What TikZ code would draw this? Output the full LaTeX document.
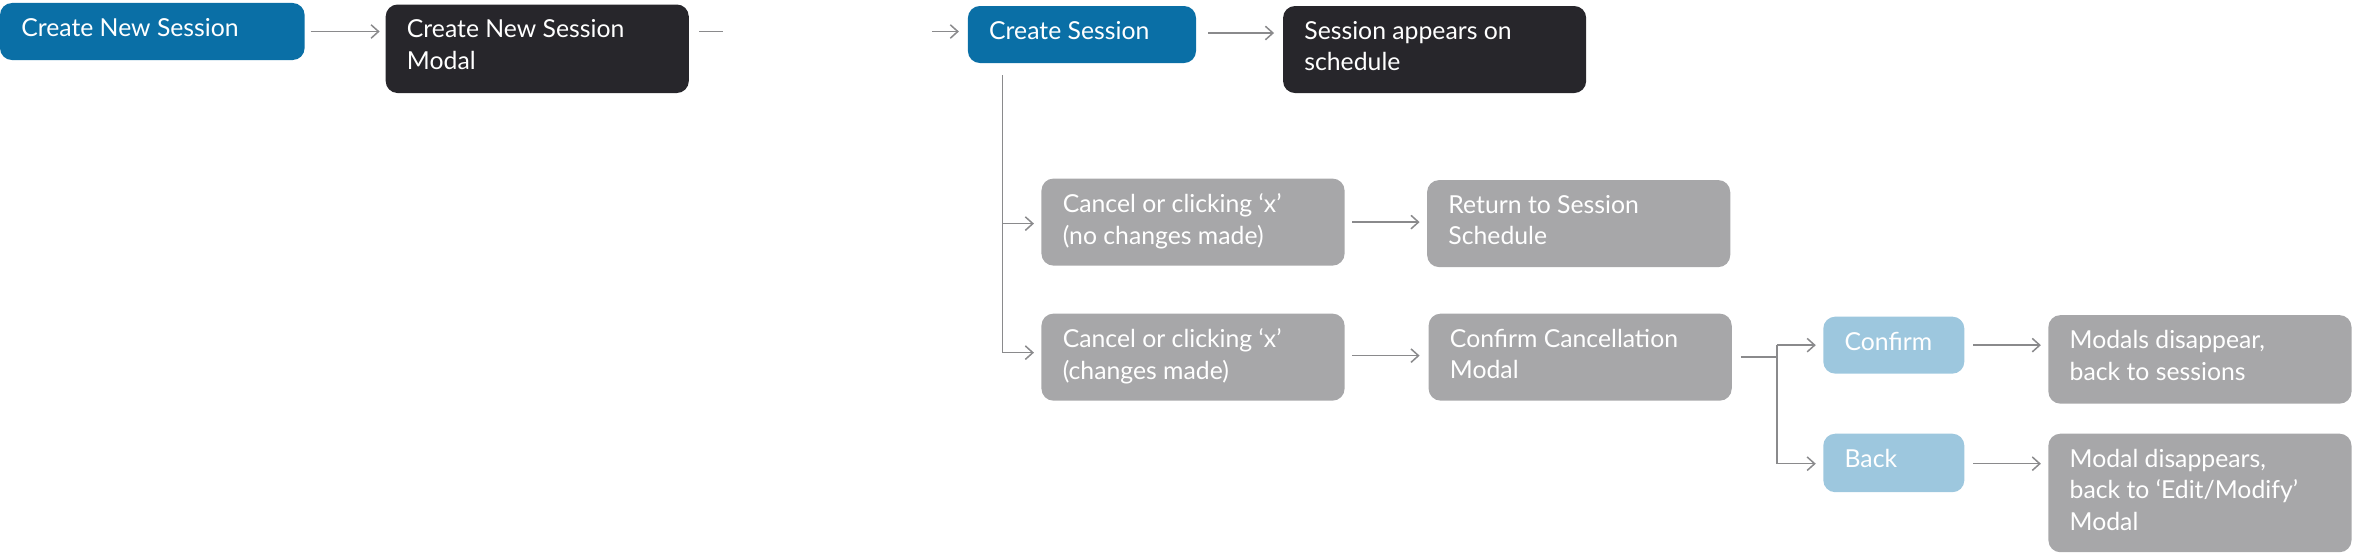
\documentclass[tikz,border=0pt]{standalone}
\usepackage{fontspec}
\setmainfont{Lato}
\usetikzlibrary{arrows.meta}
\definecolor{cblue}{HTML}{0A6FA6}
\definecolor{cdark}{HTML}{27262B}
\definecolor{cgray}{HTML}{A7A7A9}
\definecolor{clight}{HTML}{9DC7DE}
\definecolor{cline}{HTML}{8A8A8C}
\begin{document}
\begin{tikzpicture}[x=1pt,y=-1pt,
  box/.style={rounded corners=8pt,inner sep=0pt,outer sep=0pt},
  lbl/.style={anchor=north west,inner sep=0pt,text=white,font=\fontsize{16.5}{21}\selectfont,align=left},
  conn/.style={draw=cline,line width=1pt},
  arr/.style={conn,-{Straight Barb[length=5pt,width=9pt]}}]
\useasboundingbox (0,0) rectangle (1568,369);
\newcommand{\bx}[7]{% name, x1,y1,x2,y2, color, text
  \fill[box,#6] (#2,#3) rectangle (#4,#5);
  \node[inner sep=0pt,minimum width=#4pt-#2pt,minimum height=#5pt-#3pt] (#1) at ({(#2+#4)/2},{(#3+#5)/2}) {};
  \node[lbl] at (#2+14,#3+10) {#7};}
\bx{a}{0}{2}{203}{40}{cblue}{Create New Session}
\bx{b}{257}{3}{459}{62}{cdark}{Create New Session\\Modal}
\bx{c}{645}{4}{797}{42}{cblue}{Create Session}
\bx{d}{855}{4}{1057}{62}{cdark}{Session appears on\\schedule}
\bx{e}{694}{119}{896}{177}{cgray}{Cancel or clicking ‘x’\\(no changes made)}
\bx{f}{951}{120}{1153}{178}{cgray}{Return to Session\\Schedule}
\bx{g}{694}{209}{896}{267}{cgray}{Cancel or clicking ‘x’\\(changes made)}
\bx{h}{952}{209}{1154}{267}{cgray}{Confirm Cancellation\\Modal}
\bx{i}{1215}{211}{1309}{249}{clight}{Confirm}
\bx{j}{1365}{210}{1567}{269}{cgray}{Modals disappear,\\back to sessions}
\bx{k}{1215}{289}{1309}{328}{clight}{Back}
\bx{l}{1365}{289}{1567}{368}{cgray}{Modal disappears,\\back to ‘Edit/Modify’\\Modal}
\coordinate (ae) at (207,21); \coordinate (bw) at (253,21);
\draw[arr] (ae) -- (bw);
\coordinate (b1) at (466,21); \coordinate (b2) at (482,21);
\draw[conn] (b1) -- (b2);
\coordinate (c1) at (621,21); \coordinate (c2) at (639,21);
\draw[arr] (c1) -- (c2);
\coordinate (d1) at (805,22); \coordinate (d2) at (849,22);
\draw[arr] (d1) -- (d2);
\coordinate (v0) at (668,50); \coordinate (v1) at (668,149); \coordinate (v2) at (668,235);
\coordinate (e0) at (689,149); \coordinate (g0) at (689,235);
\draw[conn] (v0) -- (v2);
\draw[arr] (v1) -- (e0);
\draw[arr] (v2) -- (g0);
\coordinate (ef1) at (901,148); \coordinate (ef2) at (946,148);
\draw[arr] (ef1) -- (ef2);
\coordinate (gh1) at (901,237); \coordinate (gh2) at (946,237);
\draw[arr] (gh1) -- (gh2);
\coordinate (h1) at (1160,238); \coordinate (h2) at (1184,238);
\coordinate (h3) at (1184,230); \coordinate (h4) at (1184,309);
\coordinate (i0) at (1210,230); \coordinate (k0) at (1210,309);
\draw[conn] (h1) -- (h2);
\draw[conn] (h3) -- (h4);
\draw[arr] (h3) -- (i0);
\draw[arr] (h4) -- (k0);
\coordinate (ij1) at (1315,230); \coordinate (ij2) at (1360,230);
\draw[arr] (ij1) -- (ij2);
\coordinate (kl1) at (1315,309); \coordinate (kl2) at (1360,309);
\draw[arr] (kl1) -- (kl2);
\end{tikzpicture}
\end{document}
